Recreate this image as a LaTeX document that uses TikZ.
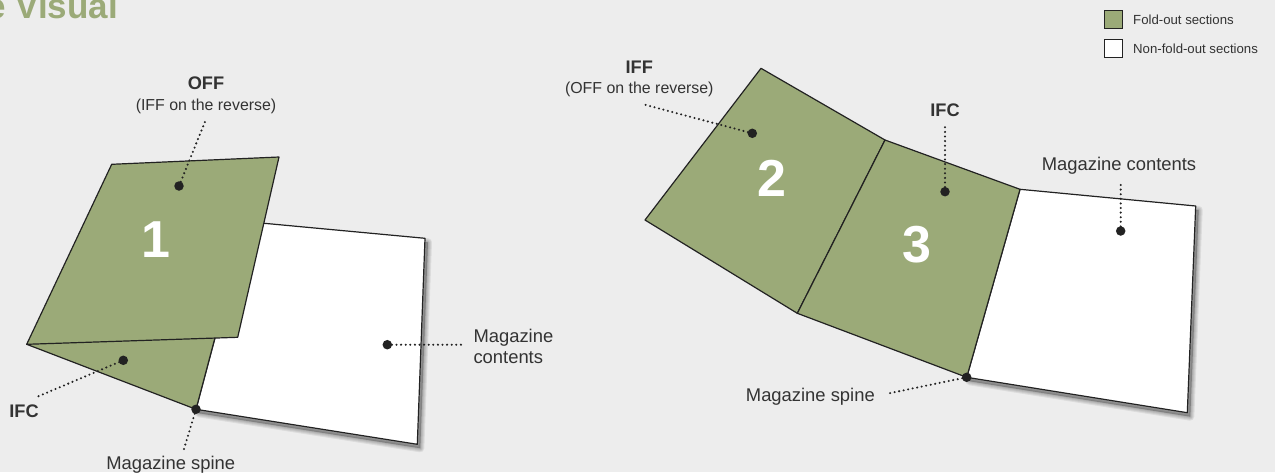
\documentclass[tikz,border=0pt]{standalone}
\usepackage{fontspec}
\setmainfont{Liberation Sans}
\definecolor{bg}{RGB}{237,237,237}
\definecolor{fold}{RGB}{155,170,120}
\definecolor{ink}{RGB}{34,34,34}
\definecolor{txt}{RGB}{51,51,51}
\newcommand\wpageA{(246,221.6) -- (425,238.3) -- (417.3,444.3) -- (196,409.3) -- cycle}
\newcommand\wpageB{(1020,189.3) -- (1195.7,206) -- (1187.3,412.7) -- (966.7,377.3) -- cycle}
\tikzset{
  panel/.style={draw=ink, line width=1.2pt, line join=round},
  greenpanel/.style={panel, fill=fold},
  whitepanel/.style={panel, fill=white},
  pshadow/.style={black, opacity=0.07, line join=round, shift={(3,4)}},
  dot/.style={circle, fill=ink, inner sep=0pt, minimum size=9.5pt},
  leader/.style={draw=ink, line width=2.3pt, line cap=round, dash pattern=on 0pt off 4.6pt},
  lbl/.style={text=txt, font=\fontsize{18.4}{22}\selectfont, inner sep=0pt},
  blbl/.style={text=txt, font=\fontsize{18.2}{22}\selectfont\bfseries, inner sep=0pt},
  sublbl/.style={text=txt, font=\fontsize{15.9}{19}\selectfont, inner sep=0pt},
  num/.style={text=white, font=\fontsize{52}{60}\selectfont\bfseries, inner sep=0pt},
  legtxt/.style={text=txt, font=\fontsize{13.2}{16}\selectfont, inner sep=0pt, anchor=base west},
  legbox/.style={draw=ink, line width=0.9pt}
}
\begin{document}
\begin{tikzpicture}[x=1pt,y=-1pt]
\fill[bg] (0,0) rectangle (1275,472);
\useasboundingbox (0,0) rectangle (1275,472);

% title (cropped at the page edge, as in the reference)
\node[anchor=base east, text=fold, font=\fontsize{35}{40}\selectfont\bfseries, inner sep=0pt] (title) at (118,18) {e Visual};

% legend
\node[legbox, fill=fold, minimum size=18pt, inner sep=0pt] (legf) at (1113,19) {};
\node[legbox, fill=white, minimum size=18pt, inner sep=0pt] (legw) at (1113,48.3) {};
\node[legtxt] (legft) at (1133,24) {Fold-out sections};
\node[legtxt] (legwt) at (1133,53.3) {Non-fold-out sections};

% ---------- left diagram ----------
\foreach \w in {8,6,4,2}{\filldraw[pshadow, line width=\w pt] \wpageA;}
\filldraw[whitepanel] \wpageA;
\filldraw[greenpanel] (26.7,344.3) -- (196,409.3) -- (225,300) -- (120,300) -- cycle;
\filldraw[greenpanel] (111.7,164.3) -- (279,157) -- (237.7,337.3) -- (26.7,344.3) -- cycle;
\node[num] (n1) at (156,239.5) {1};

\node[dot] (offdot) at (179,186) {};
\node[dot] (ifcdot) at (123.3,360.3) {};
\node[dot] (spinedot) at (196,409.3) {};
\node[dot] (contdot) at (387.3,344.7) {};
\coordinate (offend) at (206,119.3);
\coordinate (ifcend) at (35,397.7);
\coordinate (spineend) at (182.7,453.3);
\coordinate (contend) at (464,344.7);
\draw[leader] (offdot.center) -- (offend);
\draw[leader] (ifcdot.center) -- (ifcend);
\draw[leader] (spinedot.center) -- (spineend);
\draw[leader] (contdot.center) -- (contend);

\node[blbl, anchor=base] (offlbl) at (206,89.3) {OFF};
\node[sublbl, anchor=base] (offsub) at (206,110) {(IFF on the reverse)};
\node[blbl, anchor=base] (ifclbl) at (24,417.7) {IFC};
\node[lbl, anchor=base] (spinelbl) at (170.7,469) {Magazine spine};
\node[lbl, anchor=base west] (contlbl) at (473.3,342.7) {Magazine};
\node[lbl, anchor=base west] (contlbl2) at (473.3,363.3) {contents};

% ---------- right diagram ----------
\foreach \w in {8,6,4,2}{\filldraw[pshadow, line width=\w pt] \wpageB;}
\filldraw[whitepanel] \wpageB;
\filldraw[greenpanel] (761,68.3) -- (885,140) -- (797.3,313.3) -- (645,220) -- cycle;
\filldraw[greenpanel] (885,140) -- (1020,189.3) -- (966.7,377.3) -- (797.3,313.3) -- cycle;
\node[num] (n2) at (772.3,178.3) {2};
\node[num] (n3) at (916.7,245) {3};

\node[dot] (iffdot) at (752.3,133.3) {};
\node[dot] (ifcdotb) at (945,191.7) {};
\node[dot] (contdotb) at (1120.7,231) {};
\node[dot] (spinedotb) at (966.7,377.3) {};
\coordinate (iffend) at (643.3,104.3);
\coordinate (ifcendb) at (945,127.3);
\coordinate (contendb) at (1120.7,181.7);
\coordinate (spineendb) at (885.7,394);
\draw[leader] (iffdot.center) -- (iffend);
\draw[leader] (ifcdotb.center) -- (ifcendb);
\draw[leader] (contdotb.center) -- (contendb);
\draw[leader] (spinedotb.center) -- (spineendb);

\node[blbl, anchor=base] (ifflbl) at (639.3,73.3) {IFF};
\node[sublbl, anchor=base] (iffsub) at (639.3,93.5) {(OFF on the reverse)};
\node[blbl, anchor=base] (ifclblb) at (945,116.7) {IFC};
\node[lbl, anchor=base] (contlblb) at (1119,170.7) {Magazine contents};
\node[lbl, anchor=base east] (spinelblb) at (875,401.7) {Magazine spine};
\end{tikzpicture}
\end{document}
